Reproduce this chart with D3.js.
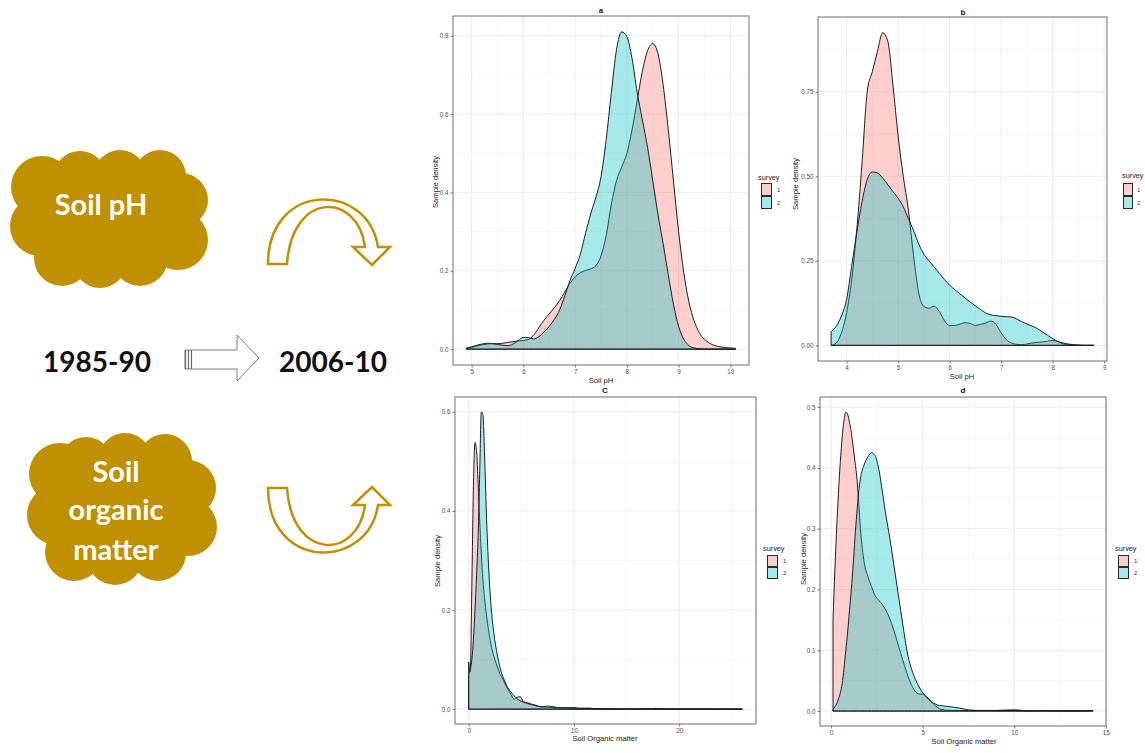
<!DOCTYPE html>
<html>
<head>
<meta charset="utf-8">
<script src="https://cdn.jsdelivr.net/npm/d3@7/dist/d3.min.js"></script>
<style>
  html, body { margin: 0; padding: 0; background: #ffffff; }
  svg { display: block; }
</style>
</head>
<body>
<svg id="fig" width="1145" height="753"></svg>
<script>
// ---------------------------------------------------------------
// Density estimates of soil properties, survey 1 (1985-90) vs survey 2 (2006-10)
// ---------------------------------------------------------------

// Panel a: soil pH
const phA_x  = [4.9,5.0,5.1,5.2,5.3,5.4,5.5,5.6,5.7,5.8,5.9,6.0,6.1,6.2,6.3,6.4,6.5,6.6,6.7,6.8,6.9,7.0,7.1,7.2,7.3,7.4,7.5,7.6,7.7,7.8,7.9,8.0,8.1,8.2,8.3,8.4,8.5,8.6,8.7,8.8,8.9,9.0,9.1,9.2,9.3,9.4,9.5,9.6,9.7,9.8,9.9,10.0,10.1];
const phA_s1 = [0.002,0.004,0.008,0.011,0.013,0.014,0.014,0.015,0.017,0.019,0.021,0.022,0.025,0.036,0.055,0.074,0.090,0.106,0.124,0.146,0.168,0.184,0.195,0.201,0.205,0.213,0.238,0.290,0.370,0.430,0.465,0.500,0.560,0.635,0.710,0.762,0.780,0.755,0.675,0.560,0.430,0.300,0.195,0.120,0.072,0.042,0.025,0.015,0.009,0.006,0.004,0.003,0.002];
const phA_s2 = [0.003,0.006,0.010,0.013,0.015,0.014,0.012,0.010,0.009,0.013,0.022,0.030,0.029,0.026,0.032,0.044,0.058,0.076,0.100,0.136,0.175,0.206,0.242,0.295,0.345,0.387,0.440,0.535,0.655,0.765,0.810,0.798,0.742,0.655,0.585,0.515,0.430,0.345,0.270,0.190,0.115,0.058,0.025,0.009,0.003,0.001,0,0,0,0,0,0,0];
const phA_xTicks  = [5,6,7,8,9,10];
const phA_xLabels = ["5","6","7","8","9","10"];
const phA_yTicks  = [0,0.2,0.4,0.6,0.8];
const phA_yLabels = ["0.0","0.2","0.4","0.6","0.8"];

// Panel b: soil pH
const phB_x  = [3.7,3.8,3.9,4.0,4.1,4.2,4.3,4.4,4.5,4.6,4.7,4.8,4.9,5.0,5.1,5.2,5.3,5.4,5.5,5.6,5.7,5.8,5.9,6.0,6.1,6.2,6.3,6.4,6.5,6.6,6.7,6.8,6.9,7.0,7.1,7.2,7.3,7.4,7.5,7.6,7.7,7.8,7.9,8.0,8.1,8.2,8.3,8.4,8.5,8.6,8.7,8.8];
const phB_s1 = [0,0.007,0.037,0.097,0.196,0.346,0.540,0.750,0.810,0.870,0.925,0.900,0.770,0.620,0.500,0.400,0.265,0.155,0.115,0.110,0.116,0.100,0.073,0.058,0.059,0.063,0.067,0.065,0.059,0.062,0.066,0.072,0.062,0.037,0.017,0.007,0.003,0.002,0.004,0.007,0.009,0.010,0.012,0.015,0.011,0.004,0.002,0.001,0,0,0,0];
const phB_s2 = [0.040,0.057,0.087,0.136,0.236,0.336,0.425,0.490,0.513,0.510,0.495,0.475,0.455,0.435,0.410,0.375,0.340,0.300,0.270,0.250,0.232,0.213,0.195,0.178,0.165,0.152,0.140,0.128,0.117,0.106,0.096,0.090,0.088,0.086,0.085,0.084,0.078,0.070,0.063,0.057,0.050,0.040,0.030,0.020,0.012,0.007,0.004,0.002,0.001,0,0,0];
const phB_xTicks  = [4,5,6,7,8,9];
const phB_xLabels = ["4","5","6","7","8","9"];
const phB_yTicks  = [0,0.25,0.5,0.75];
const phB_yLabels = ["0.00","0.25","0.50","0.75"];

// Panel c: soil organic matter
const somC_x  = [0,0.15,0.3,0.45,0.6,0.75,0.9,1.05,1.2,1.35,1.5,1.7,1.9,2.1,2.4,2.7,3.0,3.3,3.6,4.0,4.3,4.6,4.9,5.2,5.6,6.0,6.5,7.0,7.5,8.0,8.5,9.0,9.5,10.0,10.5,11.0,11.5,12.0,13.0,14.0,15.0,16.0,17.0,17.7,18.5,20.0,22.0,24.0,26.0];
const somC_s1 = [0.095,0.075,0.250,0.450,0.538,0.520,0.455,0.380,0.315,0.262,0.225,0.188,0.158,0.132,0.106,0.087,0.070,0.058,0.045,0.030,0.020,0.024,0.025,0.015,0.013,0.010,0.007,0.004,0.004,0.003,0.003,0.003,0.003,0.003,0.002,0.002,0.002,0.001,0.0005,0.0003,0.0003,0.0003,0.0005,0.0015,0.0003,0.0002,0.0002,0.0001,0];
const somC_s2 = [0.070,0.080,0.100,0.140,0.200,0.270,0.350,0.480,0.600,0.595,0.520,0.385,0.285,0.215,0.152,0.112,0.082,0.063,0.048,0.035,0.027,0.021,0.017,0.014,0.011,0.009,0.006,0.005,0.006,0.005,0.003,0.002,0.002,0.002,0.001,0.001,0.001,0.001,0.0004,0.0003,0.0003,0.0003,0.0004,0.0008,0.0003,0.0002,0.0001,0.0001,0];
const somC_xTicks  = [0,10,20];
const somC_xLabels = ["0","10","20"];
const somC_yTicks  = [0,0.2,0.4,0.6];
const somC_yLabels = ["0.0","0.2","0.4","0.6"];

// Panel d: soil organic matter
const somD_x  = [0.1,0.2,0.3,0.4,0.5,0.6,0.7,0.8,0.9,1.0,1.1,1.2,1.3,1.4,1.5,1.6,1.8,2.0,2.2,2.4,2.6,2.8,3.0,3.2,3.4,3.6,3.8,4.0,4.2,4.4,4.6,4.8,5.0,5.2,5.4,5.6,5.8,6.0,6.5,7.0,7.5,8.0,8.5,9.0,9.5,10.0,10.5,11.0,11.5,12.0,13.0,14.3];
const somD_s1 = [0.150,0.230,0.300,0.360,0.410,0.450,0.478,0.492,0.488,0.475,0.458,0.435,0.410,0.385,0.345,0.300,0.245,0.222,0.205,0.190,0.182,0.175,0.165,0.152,0.135,0.115,0.095,0.075,0.057,0.042,0.032,0.028,0.028,0.024,0.018,0.011,0.006,0.003,0.001,0.001,0.001,0.001,0.001,0.001,0.0015,0.002,0.001,0.0005,0.001,0.0005,0.0003,0.0005];
const somD_s2 = [0.003,0.007,0.012,0.020,0.030,0.045,0.070,0.100,0.130,0.165,0.200,0.240,0.285,0.325,0.360,0.383,0.405,0.418,0.425,0.420,0.398,0.360,0.320,0.285,0.245,0.205,0.165,0.125,0.090,0.068,0.052,0.040,0.030,0.023,0.017,0.013,0.010,0.009,0.007,0.005,0.002,0.001,0.001,0.001,0.001,0.001,0.0005,0.0005,0.0005,0.0005,0.0003,0.001];
const somD_xTicks  = [0,5,10,15];
const somD_xLabels = ["0","5","10","15"];
const somD_yTicks  = [0,0.1,0.2,0.3,0.4,0.5];
const somD_yLabels = ["0.0","0.1","0.2","0.3","0.4","0.5"];

const surveyLevels = ["1","2"];

// ---------------------------------------------------------------
const PINK = "#F8766D", TEAL = "#00BFC4", GOLD = "#BF9000";
const FILL_ALPHA = 0.35;
const SANS = "'Liberation Sans', Arial, Helvetica, sans-serif";
const svg = d3.select("#fig");

const panels = [
  { title: "a", xs: phA_x, s1: phA_s1, s2: phA_s2, xt: phA_xTicks, xl: phA_xLabels, yt: phA_yTicks, yl: phA_yLabels,
    xTitle: "Soil pH", box: [453, 16, 749, 365], titleAt: [601, 13], xTitleAt: [601, 383], yTitleAt: [435, 182],
    legend: { tx: 758, ty: 177, kx: 761, ky: 183, kw: 11, kh: 13, lx: 777 } },
  { title: "b", xs: phB_x, s1: phB_s1, s2: phB_s2, xt: phB_xTicks, xl: phB_xLabels, yt: phB_yTicks, yl: phB_yLabels,
    xTitle: "Soil pH", box: [818, 17, 1107, 361], titleAt: [963, 15], xTitleAt: [962, 379], yTitleAt: [795, 184],
    legend: { tx: 1122, ty: 175, kx: 1123, ky: 183, kw: 10, kh: 13, lx: 1137 } },
  { title: "C", xs: somC_x, s1: somC_s1, s2: somC_s2, xt: somC_xTicks, xl: somC_xLabels, yt: somC_yTicks, yl: somC_yLabels,
    xTitle: "Soil Organic matter", box: [455, 397, 756, 724], titleAt: [605, 393], xTitleAt: [605, 741], yTitleAt: [437, 561],
    legend: { tx: 763, ty: 548, kx: 767, ky: 555, kw: 11, kh: 12, lx: 783 } },
  { title: "d", xs: somD_x, s1: somD_s1, s2: somD_s2, xt: somD_xTicks, xl: somD_xLabels, yt: somD_yTicks, yl: somD_yLabels,
    xTitle: "Soil Organic matter", box: [820, 397, 1106, 726], titleAt: [963, 393], xTitleAt: [964, 744], yTitleAt: [803, 559],
    legend: { tx: 1115, ty: 548, kx: 1118, ky: 555, kw: 11, kh: 12, lx: 1134 } }
];

function minorValues(ticks, domain) {
  const step = ticks[1] - ticks[0];
  const out = [];
  for (let v = ticks[0] - step / 2; v <= ticks[ticks.length - 1] + step / 2 + 1e-9; v += step) {
    if (v > domain[0] && v < domain[1]) out.push(v);
  }
  return out;
}

function drawPanel(p) {
  const [L, T, R, B] = p.box;
  const xExt = d3.extent(p.xs);
  const xPad = (xExt[1] - xExt[0]) * 0.05;
  const x = d3.scaleLinear().domain([xExt[0] - xPad, xExt[1] + xPad]).range([L, R]);
  const yMax = d3.max(p.s1.concat(p.s2));
  const yPad = yMax * 0.05;
  const y = d3.scaleLinear().domain([-yPad, yMax + yPad]).range([B, T]);

  const g = svg.append("g");

  // grid
  const grid = g.append("g");
  minorValues(p.xt, x.domain()).forEach(v => grid.append("line")
    .attr("x1", x(v)).attr("x2", x(v)).attr("y1", T).attr("y2", B)
    .attr("stroke", "#f3f3f3").attr("stroke-width", 0.6));
  minorValues(p.yt, y.domain()).forEach(v => grid.append("line")
    .attr("x1", L).attr("x2", R).attr("y1", y(v)).attr("y2", y(v))
    .attr("stroke", "#f3f3f3").attr("stroke-width", 0.6));
  p.xt.forEach(v => grid.append("line")
    .attr("x1", x(v)).attr("x2", x(v)).attr("y1", T).attr("y2", B)
    .attr("stroke", "#e9e9e9").attr("stroke-width", 0.9));
  p.yt.forEach(v => grid.append("line")
    .attr("x1", L).attr("x2", R).attr("y1", y(v)).attr("y2", y(v))
    .attr("stroke", "#e9e9e9").attr("stroke-width", 0.9));

  // density areas, survey 1 then survey 2 on top
  const area = d3.area()
    .x(d => x(d[0])).y0(y(0)).y1(d => y(d[1]))
    .curve(d3.curveMonotoneX);
  [[p.s1, PINK], [p.s2, TEAL]].forEach(([vals, col]) => {
    g.append("path")
      .datum(p.xs.map((v, i) => [v, vals[i]]))
      .attr("d", area)
      .attr("fill", col).attr("fill-opacity", FILL_ALPHA)
      .attr("stroke", "#1e1e1e").attr("stroke-width", 1)
      .attr("stroke-linejoin", "round");
  });

  // panel border
  g.append("rect").attr("x", L).attr("y", T).attr("width", R - L).attr("height", B - T)
    .attr("fill", "none").attr("stroke", "#6f6f6f").attr("stroke-width", 1);

  // axes
  const xAxis = g.append("g").attr("transform", `translate(0,${B})`)
    .call(d3.axisBottom(x).tickValues(p.xt).tickSize(2.5).tickPadding(2)
      .tickFormat((d, i) => p.xl[i]));
  const yAxis = g.append("g").attr("transform", `translate(${L},0)`)
    .call(d3.axisLeft(y).tickValues(p.yt).tickSize(2.5).tickPadding(2)
      .tickFormat((d, i) => p.yl[i]));
  [xAxis, yAxis].forEach(ax => {
    ax.select(".domain").remove();
    ax.selectAll(".tick line").attr("stroke", "#555").attr("stroke-width", 0.8);
    ax.selectAll(".tick text").attr("fill", "#4d4d4d")
      .style("font-family", SANS).style("font-size", "6.3px");
  });

  // titles
  g.append("text").attr("x", p.titleAt[0]).attr("y", p.titleAt[1])
    .attr("text-anchor", "middle").style("font-family", SANS)
    .style("font-size", "8px").style("font-weight", "bold").attr("fill", "#111")
    .text(p.title);
  g.append("text").attr("x", p.xTitleAt[0]).attr("y", p.xTitleAt[1])
    .attr("text-anchor", "middle").style("font-family", SANS)
    .style("font-size", "7.6px").attr("fill", "#222").text(p.xTitle);
  g.append("text")
    .attr("transform", `translate(${p.yTitleAt[0]},${p.yTitleAt[1]}) rotate(-90)`)
    .attr("text-anchor", "middle").attr("dy", "0.35em").style("font-family", SANS)
    .style("font-size", "7.6px").attr("fill", "#222").text("Sample density");

  // legend
  const lg = p.legend;
  g.append("text").attr("x", lg.tx).attr("y", lg.ty).attr("dy", "0.35em")
    .style("font-family", SANS).style("font-size", "7.3px").attr("fill", "#222")
    .text("survey");
  [PINK, TEAL].forEach((col, i) => {
    const ky = lg.ky + i * lg.kh;
    g.append("rect").attr("x", lg.kx).attr("y", ky).attr("width", lg.kw).attr("height", lg.kh)
      .attr("fill", "#ffffff");
    g.append("rect").attr("x", lg.kx + 0.5).attr("y", ky + 0.5)
      .attr("width", lg.kw - 1).attr("height", lg.kh - 1)
      .attr("fill", col).attr("fill-opacity", FILL_ALPHA)
      .attr("stroke", "#2a2a2a").attr("stroke-width", 1);
    g.append("text").attr("x", lg.lx).attr("y", ky + lg.kh / 2).attr("dy", "0.35em")
      .style("font-family", SANS).style("font-size", "6px").attr("fill", "#333")
      .text(surveyLevels[i]);
  });
}

panels.forEach(drawPanel);

// ---------------------------------------------------------------
// Schematic on the left: clouds, period labels and arrows
// ---------------------------------------------------------------
const LABEL_FONT = "Lato, 'Open Sans', 'Noto Sans', sans-serif";
const scheme = svg.append("g");

function cloud(cx, cy, rx, ry, lobes) {
  const c = scheme.append("g").attr("fill", GOLD);
  c.append("ellipse").attr("cx", cx).attr("cy", cy).attr("rx", rx).attr("ry", ry);
  lobes.forEach(([lx, ly, r]) => c.append("circle").attr("cx", lx).attr("cy", ly).attr("r", r));
}

cloud(109, 217, 72, 48, [
  [42, 187, 31], [40, 226, 30], [62, 258, 28], [100, 261, 27], [140, 258, 28],
  [178, 240, 30], [181, 200, 27], [160, 176, 26], [120, 176, 26], [80, 178, 27]
]);
cloud(122, 509, 72, 55, [
  [60, 474, 31], [57, 515, 30], [74, 552, 29], [115, 557, 28], [158, 553, 28],
  [188, 527, 29], [188, 488, 28], [165, 461, 27], [125, 460, 27], [86, 464, 27]
]);

function label(txt, x, yBase, size, fill) {
  scheme.append("text").attr("x", x).attr("y", yBase).attr("text-anchor", "middle")
    .style("font-family", LABEL_FONT).style("font-weight", "700")
    .style("font-size", size + "px").attr("fill", fill).text(txt);
}
label("Soil pH", 101, 215, 29, "#ffffff");
label("Soil", 116, 482, 29, "#ffffff");
label("organic", 116, 520, 29, "#ffffff");
label("matter", 116, 560, 29, "#ffffff");
label("1985-90", 97, 372, 28, "#111111");
label("2006-10", 333, 372, 28, "#111111");

// block arrow between the periods
scheme.append("path")
  .attr("d", "M185,350 L237,350 L237,335 L259,358 L237,381 L237,369 L185,369 Z")
  .attr("fill", "#ffffff").attr("stroke", "#7f7f7f").attr("stroke-width", 1);
[185.5, 188.5, 191.5].forEach(xv => scheme.append("line")
  .attr("x1", xv).attr("x2", xv).attr("y1", 350).attr("y2", 369)
  .attr("stroke", "#6a6a6a").attr("stroke-width", 1.2));

// curved arrows: pH goes down, organic matter goes up
scheme.append("path")
  .attr("d", "M268,264 C268,181 368,181 378,247 L390,247 L372,265 L353,247 L365,247 C358,192 292,190 287,264 Z")
  .attr("fill", "#ffffff").attr("stroke", GOLD).attr("stroke-width", 2.5).attr("stroke-linejoin", "miter");
scheme.append("path")
  .attr("d", "M268,488 C268,571 368,571 378,505 L390,505 L372,487 L353,505 L365,505 C358,560 292,562 287,488 Z")
  .attr("fill", "#ffffff").attr("stroke", GOLD).attr("stroke-width", 2.5).attr("stroke-linejoin", "miter");
</script>
</body>
</html>
